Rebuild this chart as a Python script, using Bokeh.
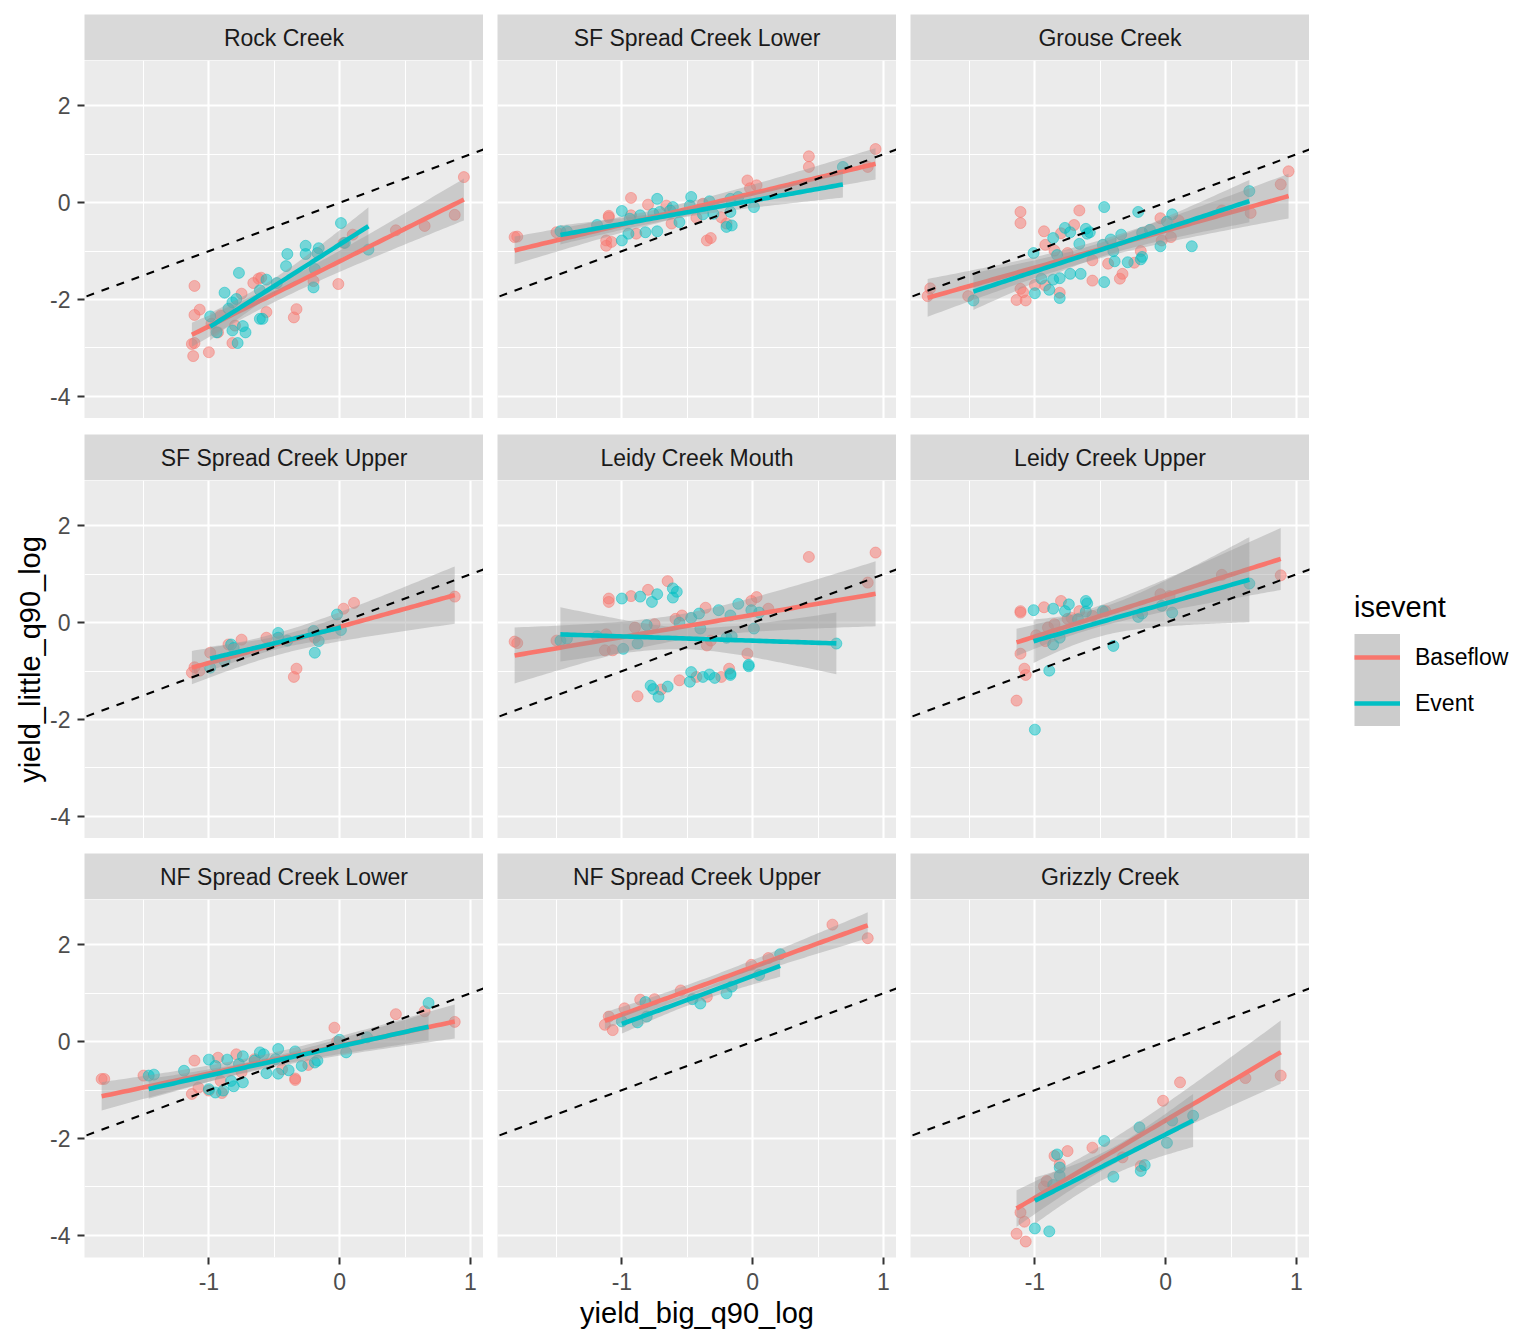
import numpy as np
from bokeh.plotting import figure
from bokeh.models import FixedTicker, Label, Legend, LegendItem, Slope
from bokeh.layouts import column, row
from bokeh.embed import file_html
from bokeh.resources import INLINE

# ---------------- data ----------------
sites = ["Rock Creek", "SF Spread Creek Lower", "Grouse Creek",
         "SF Spread Creek Upper", "Leidy Creek Mouth", "Leidy Creek Upper",
         "NF Spread Creek Lower", "NF Spread Creek Upper", "Grizzly Creek"]
groups = ["Baseflow", "Event"]

rock_base_x = [0.95, 0.88, 0.65, 0.43, 0.10, 0.03, -0.01, -0.20, -0.33, -0.35, -0.56, -0.66, -0.62, -0.60, -0.75, -1.11, -1.07, -1.11, -1.13, -1.11, -1.12, -1.00, -0.82, -0.93, -0.91, -0.98, -0.80]
rock_base_y = [0.53, -0.25, -0.48, -0.57, -0.66, -0.83, -1.68, -1.62, -2.20, -2.37, -2.26, -1.66, -1.57, -1.55, -1.88, -1.72, -2.21, -2.32, -2.92, -2.90, -3.17, -3.09, -2.90, -2.68, -2.33, -2.50, -2.54]
rock_event_x = [0.01, 0.22, 0.04, -0.26, -0.26, -0.16, -0.17, -0.40, -0.41, -0.19, -0.20, -0.77, -0.56, -0.48, -0.61, -0.88, -0.79, -0.82, -0.85, -0.99, -0.74, -0.72, -0.82, -0.78, -0.61, -0.59, -0.94]
rock_event_y = [-0.42, -0.97, -0.83, -0.89, -1.06, -0.94, -1.04, -1.06, -1.31, -1.37, -1.75, -1.45, -1.59, -1.66, -1.81, -1.86, -1.99, -2.06, -2.19, -2.35, -2.55, -2.68, -2.64, -2.90, -2.40, -2.40, -2.68]

sfl_base_x = [0.94, 0.43, 0.43, 0.88, -0.04, 0.03, -0.02, -0.93, -0.80, -1.10, -1.10, -0.66, -1.82, -1.80, -1.50, -1.12, -1.08, -1.12, -0.93, -0.89, -0.62, -0.43, -0.35, -0.32, -0.24, -0.20, -0.38]
sfl_base_y = [1.11, 0.96, 0.74, 0.74, 0.46, 0.36, 0.30, 0.10, -0.04, -0.27, -0.30, -0.06, -0.71, -0.70, -0.61, -0.78, -0.81, -0.89, -0.26, -0.64, -0.43, -0.31, -0.78, -0.73, -0.30, -0.43, -0.02]
sfl_event_x = [0.69, 0.01, -0.11, -0.17, -0.17, -0.20, -0.16, -0.30, -0.38, -0.33, -0.47, -0.48, -0.73, -0.61, -0.63, -0.71, -0.76, -0.56, -0.73, -0.82, -0.86, -0.94, -1.00, -1.00, -0.95, -1.19, -1.47, -1.42]
sfl_event_y = [0.74, -0.09, 0.12, 0.08, -0.19, -0.50, -0.47, -0.23, -0.24, 0.03, 0.12, -0.06, 0.08, -0.09, -0.16, -0.19, -0.23, -0.40, -0.59, -0.61, -0.26, -0.33, -0.17, -0.78, -0.64, -0.46, -0.59, -0.59]

grouse_base_x = [0.94, 0.88, 0.65, 0.43, -0.04, 0.10, 0.04, -0.03, -0.19, -0.24, -0.33, -0.35, -0.44, -0.56, -0.56, -0.66, -0.70, -0.80, -0.75, -0.93, -0.92, -0.85, -1.11, -1.11, -1.00, -0.92, -1.11, -1.09, -1.14, -1.07, -0.81, -1.51, -1.80, -1.82]
grouse_base_y = [0.65, 0.38, -0.21, -0.16, -0.32, -0.37, -0.71, -0.78, -1.00, -1.24, -1.47, -1.57, -1.26, -1.19, -1.61, -0.16, -0.46, -0.63, -1.04, -0.59, -0.87, -0.99, -0.19, -0.42, -1.70, -1.71, -1.78, -1.85, -2.01, -2.02, -1.86, -1.93, -1.77, -1.93]
grouse_event_x = [0.64, 0.05, 0.01, -0.04, 0.20, -0.12, -0.18, -0.47, -0.21, -0.18, -0.19, -0.29, -0.34, -0.42, -0.48, -0.40, -0.39, -0.47, -0.65, -0.73, -0.66, -0.61, -0.60, -0.58, -0.77, -0.73, -0.86, -0.83, -1.01, -0.81, -0.86, -0.95, -0.89, -1.00, -0.81, -1.47]
grouse_event_y = [0.24, -0.24, -0.39, -0.90, -0.90, -0.56, -0.62, -0.09, -0.19, -1.12, -1.17, -1.23, -0.66, -0.76, -0.87, -1.00, -1.21, -1.64, -1.47, -1.47, -0.85, -0.54, -0.64, -0.61, -0.52, -0.61, -0.73, -1.08, -1.04, -1.56, -1.59, -1.57, -1.80, -1.87, -1.97, -2.02]

sfu_base_x = [0.88, 0.11, 0.03, -0.56, -0.75, -0.85, -0.99, -0.33, -0.35, -1.11, -1.13, -1.07, -0.19]
sfu_base_y = [0.54, 0.41, 0.29, -0.31, -0.35, -0.45, -0.62, -0.95, -1.12, -0.92, -1.03, -0.99, -0.31]
sfu_event_x = [-0.02, 0.01, -0.20, -0.16, -0.19, -0.47, -0.47, -0.40, -0.83, -0.81, -0.88, -0.99]
sfu_event_y = [0.17, -0.15, -0.17, -0.38, -0.62, -0.21, -0.31, -0.37, -0.45, -0.52, -0.79, -0.93]

lcm_base_x = [0.94, 0.43, 0.88, -0.65, -0.80, -0.93, -1.10, -1.10, 0.03, -0.01, 0.12, -0.36, -0.54, -0.59, -0.75, -0.90, -1.12, -1.82, -1.80, -1.50, -1.13, -1.07, -0.35, -0.32, -0.04, -0.18, -0.24, -0.43, -0.56, -0.70, -0.88]
lcm_base_y = [1.45, 1.36, 0.83, 0.86, 0.68, 0.55, 0.50, 0.43, 0.53, 0.45, 0.29, 0.31, 0.15, 0.08, -0.03, -0.10, -0.24, -0.39, -0.42, -0.37, -0.57, -0.57, -0.47, -0.37, -0.64, -0.95, -1.12, -1.12, -1.19, -1.38, -1.52]
lcm_event_x = [0.64, 0.01, -0.03, -0.03, -0.11, -0.01, 0.05, -0.26, -0.17, -0.20, -0.16, -0.17, -0.17, -0.33, -0.38, -0.29, -0.47, -0.48, -0.65, -0.72, -0.76, -0.78, -0.41, -0.47, -0.40, -0.56, -0.61, -0.58, -0.61, -0.73, -0.77, -0.86, -1.00, -0.81, -0.88, -0.99, -1.19, -1.47, -1.42]
lcm_event_y = [-0.43, -0.12, -0.87, -0.90, 0.39, 0.26, 0.21, 0.26, 0.15, -0.31, -0.28, -1.05, -1.08, -1.07, -1.12, -1.14, -1.02, -1.22, -1.32, -1.53, -1.37, -1.30, 0.19, 0.10, -0.12, 0.00, 0.71, 0.64, 0.52, 0.59, 0.43, 0.54, 0.50, -0.05, -0.43, -0.54, -0.28, -0.37, -0.33]

lcu_base_x = [0.88, 0.43, -0.04, 0.03, -1.11, -1.11, -0.93, -0.80, -0.66, -0.56, -0.75, -0.85, -0.90, -0.99, -0.92, -1.11, -1.08, -1.07, -1.14, -0.72, -0.46]
lcu_base_y = [0.98, 0.99, 0.59, 0.55, 0.24, 0.21, 0.32, 0.45, 0.24, 0.14, 0.08, -0.03, -0.10, -0.26, -0.38, -0.64, -0.95, -1.08, -1.61, 0.10, 0.24]
lcu_event_x = [0.64, 0.05, -0.03, -0.21, -0.18, -0.48, -0.61, -0.60, -0.74, -0.77, -0.86, -1.01, -0.61, -0.67, -0.81, -0.86, -0.40, -0.89, -1.00]
lcu_event_y = [0.81, 0.21, 0.35, 0.12, 0.19, 0.24, 0.45, 0.40, 0.38, 0.24, 0.29, 0.26, 0.23, 0.07, -0.31, -0.45, -0.48, -0.99, -2.21]

nfl_base_x = [0.88, 0.65, 0.43, -0.04, -0.02, -0.24, -0.34, -0.34, -0.44, -0.65, -0.79, -0.93, -1.11, -1.08, -1.13, -1.00, -0.90, -0.91, -1.50, -1.82, -1.80, -0.75]
nfl_base_y = [0.41, 0.63, 0.57, 0.29, 0.00, -0.48, -0.76, -0.79, -0.57, -0.36, -0.26, -0.33, -0.39, -0.95, -1.08, -1.01, -1.06, -0.81, -0.70, -0.77, -0.77, -0.63]
nfl_event_x = [0.68, 0.00, 0.05, 0.21, -0.19, -0.17, -0.29, -0.34, -0.47, -0.49, -0.47, -0.39, -0.56, -0.61, -0.58, -0.65, -0.74, -0.77, -0.86, -0.95, -1.00, -0.83, -0.81, -0.74, -0.89, -0.95, -1.00, -1.19, -1.46, -1.42]
nfl_event_y = [0.80, 0.04, -0.22, 0.09, -0.43, -0.39, -0.50, -0.20, -0.15, -0.36, -0.66, -0.59, -0.65, -0.22, -0.26, -0.39, -0.30, -0.46, -0.37, -0.50, -0.37, -0.81, -0.92, -0.84, -1.01, -1.05, -0.98, -0.60, -0.70, -0.68]

nfu_base_x = [0.61, 0.88, 0.12, -0.01, -0.55, -0.35, -0.75, -0.86, -0.98, -1.10, -1.13, -1.07]
nfu_base_y = [2.42, 2.14, 1.73, 1.59, 1.06, 0.93, 0.88, 0.87, 0.69, 0.52, 0.35, 0.24]
nfu_event_x = [0.21, 0.05, -0.16, -0.20, -0.40, -0.46, -0.81, -0.82, -0.88, -1.00]
nfu_event_y = [1.81, 1.38, 1.14, 1.00, 0.79, 0.88, 0.52, 0.82, 0.40, 0.42]

griz_base_x = [0.88, 0.61, 0.11, -0.02, -0.56, -0.75, -0.81, -0.85, -0.33, -0.19, -0.91, -0.93, -1.11, -1.08, -1.14, -1.07]
griz_base_y = [-0.70, -0.75, -0.84, -1.22, -2.19, -2.26, -2.53, -2.36, -2.39, -2.57, -2.88, -2.99, -3.53, -3.72, -3.97, -4.13]
griz_event_x = [0.21, 0.05, 0.01, -0.20, -0.47, -0.16, -0.19, -0.40, -0.83, -0.81, -0.81, -0.86, -1.00, -0.89]
griz_event_y = [-1.53, -1.63, -2.09, -1.77, -2.05, -2.55, -2.67, -2.79, -2.33, -2.60, -2.77, -2.96, -3.86, -3.92]

x_ticks = [-1, 0, 1]
x_minor = [-1.5, -0.5, 0.5]
y_ticks = [-4, -2, 0, 2]
y_minor = [-3, -1, 1]

panel_data = [
    (rock_base_x, rock_base_y, rock_event_x, rock_event_y),
    (sfl_base_x, sfl_base_y, sfl_event_x, sfl_event_y),
    (grouse_base_x, grouse_base_y, grouse_event_x, grouse_event_y),
    (sfu_base_x, sfu_base_y, sfu_event_x, sfu_event_y),
    (lcm_base_x, lcm_base_y, lcm_event_x, lcm_event_y),
    (lcu_base_x, lcu_base_y, lcu_event_x, lcu_event_y),
    (nfl_base_x, nfl_base_y, nfl_event_x, nfl_event_y),
    (nfu_base_x, nfu_base_y, nfu_event_x, nfu_event_y),
    (griz_base_x, griz_base_y, griz_event_x, griz_event_y),
]

# ---------------- styling ----------------
FONT = "Liberation Sans"
SMALL = "23px"
LARGE = "29px"
COLORS = {"Baseflow": "#F8766D", "Event": "#00BFC4"}
X_RANGE = (-1.951, 1.100)
Y_RANGE = (-4.46, 2.94)
FW, FH = 399, 358
STRIP_H = 46
LEFT_B = 84
GAP_X = 14
STRIP_TOPS = [14, 16, 15]
BOTTOM_B = 76
LEGEND_B = 205
KEY = 46


def t975(df):
    z = 1.959964
    return (z + (z**3 + z) / (4 * df) + (5 * z**5 + 16 * z**3 + 3 * z) / (96 * df**2)
            + (3 * z**7 + 19 * z**5 + 17 * z**3 - 15 * z) / (384 * df**3))


def lm_band(x, y):
    x = np.asarray(x, float)
    y = np.asarray(y, float)
    n = len(x)
    b, a = np.polyfit(x, y, 1)
    xs = np.linspace(x.min(), x.max(), 80)
    fit = a + b * xs
    resid = y - (a + b * x)
    s = np.sqrt(np.sum(resid ** 2) / (n - 2))
    sxx = np.sum((x - x.mean()) ** 2)
    se = s * np.sqrt(1.0 / n + (xs - x.mean()) ** 2 / sxx)
    t = t975(n - 2)
    return xs, fit, fit - t * se, fit + t * se


def style_axis(ax):
    ax.axis_line_color = None
    ax.major_tick_line_color = "#333333"
    ax.major_tick_line_width = 2
    ax.major_tick_out = 7
    ax.major_tick_in = 0
    ax.minor_tick_line_color = None
    ax.major_label_text_font = FONT
    ax.major_label_text_font_size = SMALL
    ax.major_label_text_color = "#4D4D4D"
    ax.axis_label_text_font = FONT
    ax.axis_label_text_font_size = LARGE
    ax.axis_label_text_font_style = "normal"
    ax.axis_label_text_color = "black"


def make_strip(r, c, name):
    s = figure(frame_width=FW, frame_height=STRIP_H, x_range=(0, 1), y_range=(0, 1),
               x_axis_location=None, y_axis_location=None, title=None,
               toolbar_location=None, output_backend="svg",
               min_border_left=LEFT_B if c == 0 else GAP_X, min_border_right=0,
               min_border_top=STRIP_TOPS[r], min_border_bottom=0,
               background_fill_color="#D9D9D9", border_fill_color="white",
               outline_line_color=None)
    s.xgrid.visible = False
    s.ygrid.visible = False
    s.add_layout(Label(x=0.5, y=0.5, text=name, text_align="center",
                       text_baseline="middle", text_font=FONT,
                       text_font_size=SMALL, text_color="#1A1A1A"))
    return s


def make_panel(i, name):
    r, c = divmod(i, 3)
    left = c == 0
    bottom = r == 2
    has_legend = (r == 1 and c == 2)
    p = figure(frame_width=FW, frame_height=FH, x_range=X_RANGE, y_range=Y_RANGE,
               x_axis_location="below" if bottom else None,
               y_axis_location="left" if left else None,
               title=None, toolbar_location=None, output_backend="svg",
               min_border_left=LEFT_B if left else GAP_X,
               min_border_right=LEGEND_B if has_legend else 0,
               min_border_top=0, min_border_bottom=BOTTOM_B if bottom else 0,
               background_fill_color="#EBEBEB", border_fill_color="white",
               outline_line_color=None)
    for g in p.xgrid:
        g.ticker = FixedTicker(ticks=x_ticks, minor_ticks=x_minor)
    for g in p.ygrid:
        g.ticker = FixedTicker(ticks=y_ticks, minor_ticks=y_minor)
    for g in list(p.xgrid) + list(p.ygrid):
        g.grid_line_color = "white"
        g.grid_line_width = 2.1
        g.minor_grid_line_color = "white"
        g.minor_grid_line_width = 1.07
    if bottom:
        ax = p.xaxis[0]
        ax.ticker = FixedTicker(ticks=x_ticks)
        ax.major_label_overrides = {t: str(t) for t in x_ticks}
        style_axis(ax)
        ax.major_label_standoff = 8
        if c == 1:
            ax.axis_label = "yield_big_q90_log"
            ax.axis_label_standoff = 4
    if left:
        ax = p.yaxis[0]
        ax.ticker = FixedTicker(ticks=y_ticks)
        ax.major_label_overrides = {t: str(t) for t in y_ticks}
        style_axis(ax)
        ax.major_label_standoff = 7
        if r == 1:
            ax.axis_label = "yield_little_q90_log"
            ax.axis_label_standoff = 1

    bx, by, ex, ey = panel_data[i]
    pts = {"Baseflow": (bx, by), "Event": (ex, ey)}
    lines = {}
    for g in groups:
        x, y = pts[g]
        p.scatter(x, y, size=11, fill_color=COLORS[g], fill_alpha=0.5,
                  line_color=COLORS[g], line_alpha=0.5, line_width=1)
    for g in groups:
        x, y = pts[g]
        xs, fit, lo, hi = lm_band(x, y)
        p.varea(x=xs, y1=lo, y2=hi, fill_color="#999999", fill_alpha=0.4)
        lines[g] = p.line(xs, fit, line_color=COLORS[g], line_width=4.6)
    p.add_layout(Slope(gradient=1, y_intercept=0, line_color="black",
                       line_width=2.1, line_dash="8 8"))
    if has_legend:
        # key background: a glyph with no drawable data whose legend stroke fills the key box
        key_bg = p.line(x=np.array([np.nan]), y=np.array([np.nan]),
                        line_color="#CCCCCC", line_width=KEY + 1.5)
        items = [LegendItem(label=g, renderers=[key_bg, lines[g]]) for g in groups]
        leg = Legend(items=items, title="isevent", location=(45, 112),
                     orientation="vertical", margin=0, padding=0,
                     glyph_width=KEY, glyph_height=KEY, spacing=0,
                     label_standoff=15, title_standoff=10,
                     label_text_font=FONT, label_text_font_size=SMALL,
                     label_text_color="black", title_text_font=FONT,
                     title_text_font_size=LARGE, title_text_font_style="normal",
                     title_text_color="black", background_fill_alpha=0,
                     border_line_color=None)
        p.add_layout(leg, "right")
    return p


rows = []
for r in range(3):
    strips = [make_strip(r, c, sites[3 * r + c]) for c in range(3)]
    panels = [make_panel(3 * r + c, sites[3 * r + c]) for c in range(3)]
    rows.append(row(*strips))
    rows.append(row(*panels))

layout = column(*rows)
open("out.html", "w").write(file_html(layout, INLINE))
